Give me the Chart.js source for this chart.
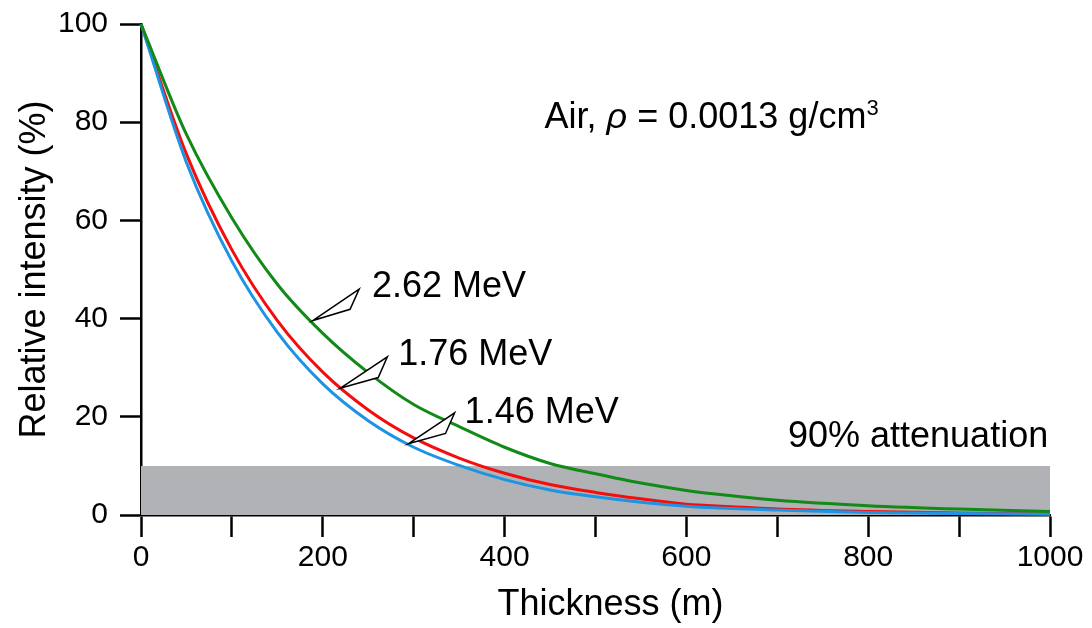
<!DOCTYPE html>
<html>
<head>
<meta charset="utf-8">
<script src="https://cdn.jsdelivr.net/npm/chart.js@4"></script>
<style>
  body { margin: 0; background: #fff; }
  canvas { display: block; }
</style>
</head>
<body>
<canvas id="chart" width="1092" height="628"></canvas>
<script>
// Data
const thickness = [0, 50, 100, 150, 200, 250, 300, 350, 400, 450, 500, 550, 600, 650, 700, 800, 900, 1000];
const mev262 = [100, 77.5, 60.5, 47, 37, 29, 22.5, 18, 13.8, 10.5, 8.4, 6.5, 5.0, 3.9, 3.0, 1.9, 1.2, 0.7];
const mev176 = [100, 73.5, 54, 39.6, 29.1, 21.4, 15.7, 11.6, 8.5, 6.2, 4.6, 3.3, 2.2, 1.7, 1.2, 0.7, 0.4, 0.2];
const mev146 = [100, 71.8, 51.7, 37.2, 26.7, 19.2, 13.8, 10.1, 7.2, 5.1, 3.7, 2.6, 1.8, 1.3, 1.0, 0.5, 0.3, 0.15];
const attenuationLevel = 10;
const xTickLabels = [0, 200, 400, 600, 800, 1000];
const yTickLabels = [0, 20, 40, 60, 80, 100];

const FONT = "'Liberation Sans', Arial, sans-serif";

const toPoints = vals => vals.map((v, i) => ({ x: thickness[i], y: v }));

// callouts: tip on the curve, two back corners, text anchor (all in data units)
const callouts = [
    { text: '2.62 MeV', tip: [189, 39.6], a: [240, 46.0], b: [230, 41.9], at: [254, 44.3] },
    { text: '1.76 MeV', tip: [219, 25.8], a: [271, 32.2], b: [261, 28.0], at: [283, 30.5] },
    { text: '1.46 MeV', tip: [294, 14.5], a: [345, 20.8], b: [335, 16.6], at: [356, 18.7] }
];

const annotate = {
    id: 'annotate',
    afterDatasetsDraw(chart) {
        const { ctx, scales: { x, y } } = chart;
        ctx.save();

        // callout arrows
        callouts.forEach(c => {
            ctx.beginPath();
            ctx.moveTo(x.getPixelForValue(c.tip[0]), y.getPixelForValue(c.tip[1]));
            ctx.lineTo(x.getPixelForValue(c.a[0]), y.getPixelForValue(c.a[1]));
            ctx.lineTo(x.getPixelForValue(c.b[0]), y.getPixelForValue(c.b[1]));
            ctx.closePath();
            ctx.fillStyle = '#fff';
            ctx.fill();
            ctx.lineWidth = 1.5;
            ctx.strokeStyle = '#000';
            ctx.stroke();

            ctx.fillStyle = '#000';
            ctx.font = '36px ' + FONT;
            ctx.textAlign = 'left';
            ctx.textBaseline = 'alphabetic';
            ctx.fillText(c.text, x.getPixelForValue(c.at[0]), y.getPixelForValue(c.at[1]));
        });

        // 90% attenuation
        ctx.fillStyle = '#000';
        ctx.font = '36px ' + FONT;
        ctx.textAlign = 'right';
        ctx.textBaseline = 'alphabetic';
        ctx.fillText('90% attenuation', x.getPixelForValue(998), y.getPixelForValue(13.9));

        // Air, rho = 0.0013 g/cm3
        let px = x.getPixelForValue(444);
        const py = y.getPixelForValue(78.9);
        ctx.textAlign = 'left';
        const parts = [
            { t: 'Air, ', f: '36px ' + FONT, dy: 0 },
            { t: 'ρ', f: 'italic 36px ' + FONT, dy: 0 },
            { t: ' = 0.0013 g/cm', f: '36px ' + FONT, dy: 0 },
            { t: '3', f: '22px ' + FONT, dy: -13 }
        ];
        parts.forEach(p => {
            ctx.font = p.f;
            ctx.fillText(p.t, px, py + p.dy);
            px += ctx.measureText(p.t).width;
        });

        ctx.restore();
    }
};

const ctx = document.getElementById('chart').getContext('2d');
new Chart(ctx, {
    type: 'line',
    data: {
        datasets: [
            {
                label: '2.62 MeV',
                data: toPoints(mev262),
                borderColor: '#118a17',
                borderWidth: 3,
                pointRadius: 0,
                cubicInterpolationMode: 'monotone',
                clip: false,
                order: 0
            },
            {
                label: '1.46 MeV',
                data: toPoints(mev146),
                borderColor: '#1c93e3',
                borderWidth: 3,
                pointRadius: 0,
                cubicInterpolationMode: 'monotone',
                clip: false,
                order: 1
            },
            {
                label: '1.76 MeV',
                data: toPoints(mev176),
                borderColor: '#f50d0d',
                borderWidth: 3,
                pointRadius: 0,
                cubicInterpolationMode: 'monotone',
                clip: false,
                order: 2
            },
            {
                label: '90% attenuation',
                data: [{ x: thickness[0], y: attenuationLevel }, { x: thickness[thickness.length - 1], y: attenuationLevel }],
                borderWidth: 0,
                pointRadius: 0,
                backgroundColor: '#b1b2b5',
                fill: 'origin',
                order: 3
            }
        ]
    },
    options: {
        responsive: false,
        animation: false,
        layout: { padding: { left: 0, right: 42, top: 24, bottom: 0 } },
        plugins: {
            legend: { display: false },
            tooltip: { enabled: false }
        },
        scales: {
            x: {
                type: 'linear',
                min: 0,
                max: 1000,
                ticks: {
                    stepSize: 100,
                    autoSkip: false,
                    maxRotation: 0,
                    padding: 3,
                    color: '#000',
                    font: { size: 30, family: FONT },
                    callback: v => xTickLabels.includes(v) ? v : ''
                },
                grid: { drawOnChartArea: false, tickLength: 22, tickColor: '#000', tickWidth: 2.5 },
                border: { color: '#000', width: 2.5 },
                // leading spaces nudge the title right, as in the original
                title: { display: true, text: '   Thickness (m)', color: '#000', font: { size: 36, family: FONT }, padding: { top: 0, bottom: 1 } },
                afterFit: s => { s.height = 113; }
            },
            y: {
                min: 0,
                max: 100,
                ticks: {
                    stepSize: 20,
                    padding: 12,
                    color: '#000',
                    font: { size: 30, family: FONT },
                    callback: v => yTickLabels.includes(v) ? v : ''
                },
                grid: { drawOnChartArea: false, tickLength: 21, tickColor: '#000', tickWidth: 2.5 },
                border: { color: '#000', width: 2.5 },
                title: { display: true, text: 'Relative intensity (%)', color: '#000', font: { size: 36, family: FONT }, padding: { top: 13, bottom: 0 } },
                afterFit: s => {
                    s.width = 141;
                    s.paddingTop = 0;
                    s.paddingBottom = 0;
                }
            }
        }
    },
    plugins: [annotate]
});
</script>
</body>
</html>
